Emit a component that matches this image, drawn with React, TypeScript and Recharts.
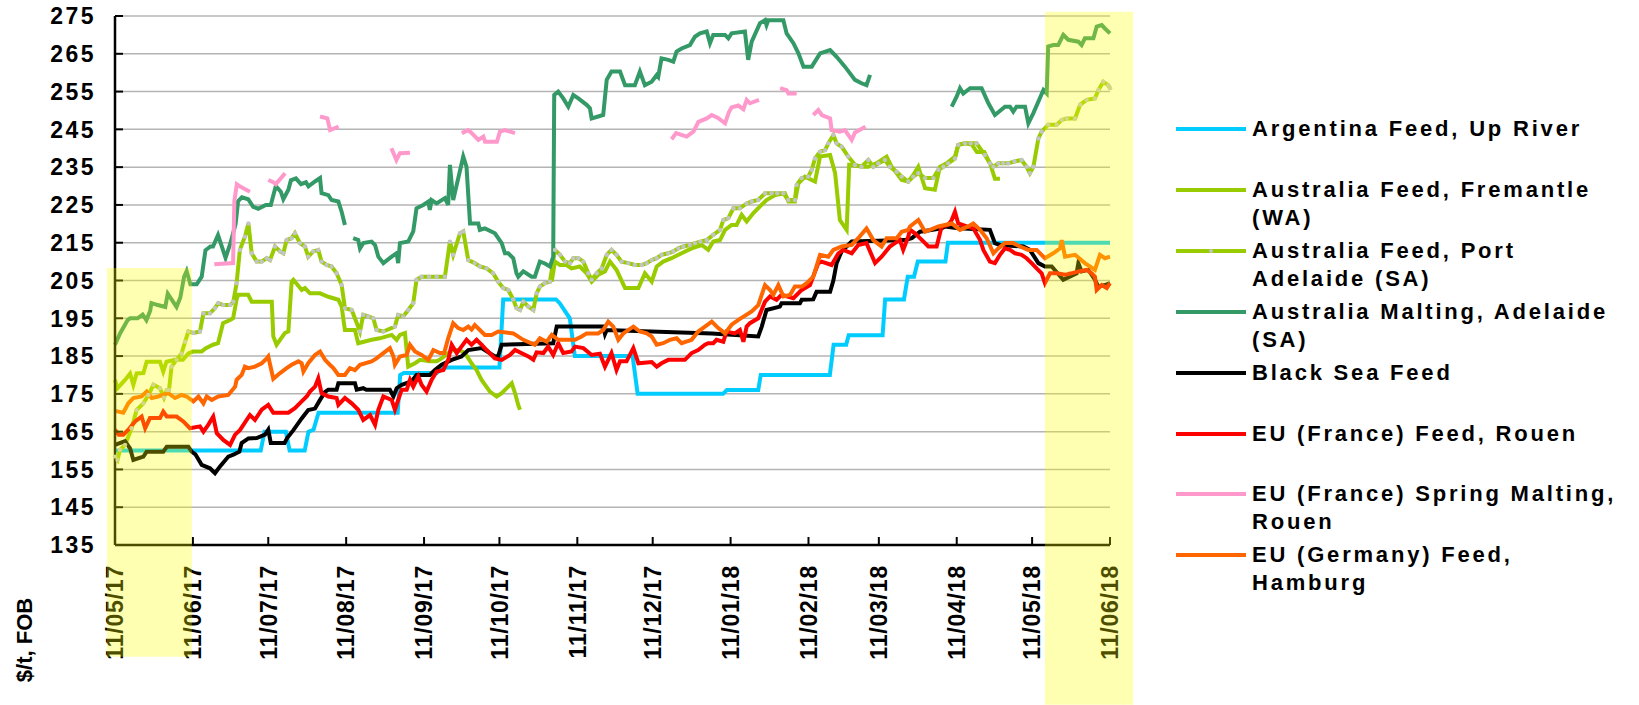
import React from 'react';
import { LineChart, Line, XAxis, YAxis, CartesianGrid, ReferenceArea } from 'recharts';

// x values are days counted from 11/05/17, y values are $/t FOB
type Pt = [number, number | null];

const tickDays = [0, 31, 61, 92, 123, 153, 184, 214, 245, 276, 304, 335, 365, 396];
const tickLabels = [
  '11/05/17', '11/06/17', '11/07/17', '11/08/17', '11/09/17', '11/10/17', '11/11/17',
  '11/12/17', '11/01/18', '11/02/18', '11/03/18', '11/04/18', '11/05/18', '11/06/18',
];
const valueTicks = [135, 145, 155, 165, 175, 185, 195, 205, 215, 225, 235, 245, 255, 265, 275];

const argentinaFeed: Pt[] = [
  [0, 160], [58, 160], [59.5, 165], [68, 165], [69.5, 160], [75.5, 160], [77, 165], [79, 165.5],
  [81, 170], [112.5, 170], [113.5, 180], [115, 180.5], [128, 180.5], [131, 182], [153, 182],
  [154.5, 200], [175.5, 200], [177, 199], [179.5, 196.5], [181, 195], [183, 185], [206, 185],
  [208, 175], [242, 175], [243.5, 176], [256, 176], [257, 180], [284.5, 180], [286, 188],
  [291, 188], [292, 190.5], [305.5, 190.5], [306.5, 200], [314, 200], [315.5, 206], [318, 206],
  [319.5, 210], [330.5, 210], [331.5, 215], [396, 215],
];

const fremantleFeed: Pt[] = [
  [0, 178.7], [1, 176.5], [4, 178.7], [6, 180.4], [7.3, 177.4], [8.6, 180.4], [11.3, 180.5],
  [12.6, 183.5], [17.9, 183.5], [19.2, 180.9], [20.5, 183.5], [23.9, 184], [27, 184], [29.2, 185.7],
  [31, 186.2], [34.5, 186.2], [36, 187], [39, 188], [41, 188.4], [43, 193.7], [46, 194.6], [47, 195],
  [48.4, 200], [49, 201.2], [53, 201.2], [54.4, 199.4], [62.4, 199.4], [63, 190.2], [64.3, 188],
  [67.6, 191.1], [69, 191.5], [70.3, 204.7], [71, 205.2], [74.3, 202.5], [75.6, 203], [77.6, 201.6],
  [81.6, 201.6], [84.9, 200.7], [88.9, 199.9], [90.2, 198.1], [91.5, 191.9], [95.5, 191.9],
  [96.8, 188.4], [102.1, 189.3], [105.4, 189.7], [110.1, 190.6], [112.1, 189.3], [113.4, 190.6],
  [115.4, 191.1], [116.7, 182.2], [119.4, 183.1], [121.4, 184], [125.3, 183.6], [128, 183.6],
  [130, 184.4], [132.6, 185.8], [134.6, 186.6], [137, 186.6], [139.3, 185.8], [141.9, 183.1],
  [143.9, 181.3], [145.9, 178.7], [149.2, 175.6], [151.9, 174.3], [153.9, 175.2], [155.9, 176.5],
  [157.9, 177.8], [159.2, 175.2], [160.5, 172], [161.2, 170.8], [165, null],
  [173.8, 204.7], [175.1, 210], [177.1, 209.1], [179.7, 209.1], [181.7, 208.2], [185, 208.7],
  [187.7, 206.9], [189.7, 204.7], [192.3, 206.5], [195, 207.4], [197, 210], [199.6, 207.8],
  [203, 203], [208.3, 203], [210.9, 206.9], [213.6, 204.7], [215.6, 208.7], [218.2, 210],
  [221.5, 210.9], [225.5, 212.2], [229.5, 213.5], [233.5, 214.4], [236.1, 213.1], [238.1, 215.3],
  [240.8, 215.7], [242.8, 218.4], [245.4, 219.7], [247.4, 219.7], [249.4, 222.4], [251.4, 220.6],
  [254, 222.8], [256.7, 224.6], [259.3, 226.3], [262.7, 227.6], [266.6, 228.1], [268, 225.9],
  [270.6, 225.9], [272, 230.7], [274.6, 232.5], [277.3, 231.6], [278.6, 231.2], [280.6, 237.8],
  [284.6, 238.2], [286.6, 233.4], [288.5, 221], [291.2, 218.4], [292.2, 235.6], [297.8, 235.1],
  [299.8, 235.1], [303, 236], [307.1, 237.8], [309.1, 235.1], [311.1, 233.4], [313.1, 231.6],
  [315.7, 231.2], [317.7, 232.9], [319.7, 235.1], [322.4, 229.4], [326.3, 229], [328.3, 235.1],
  [331, 236], [334.3, 237.8], [335.6, 240.9], [338.3, 241.3], [341, 241], [343, 239], [346, 239],
  [348.5, 235.5], [350.2, 231.9], [352.2, 231.9],
];

const portAdelaideFeed: Pt[] = [
  [0, 158.4], [1, 157.5], [2, 160.2], [4, 161.5], [6.6, 165.9], [8.6, 170.7], [11.3, 172.5],
  [13.3, 174.7], [15.3, 177.4], [17.9, 176.5], [19.5, 174], [20.6, 176], [21.5, 176], [22.5, 182.2],
  [24.5, 184], [26.5, 185.7], [27.9, 188.8], [29.2, 191.5], [31.2, 191.1], [33.8, 191.5],
  [35.2, 196.3], [37.8, 196.3], [39.8, 197.7], [41.1, 199], [43.1, 198.5], [45.8, 198.5],
  [47.1, 199.4], [48.4, 204.3], [49.7, 213.1], [51.7, 216.6], [53.1, 220.1], [54.4, 212.2],
  [56.4, 210], [58.4, 210], [60.4, 210.9], [61.7, 210.4], [63.7, 214], [65.7, 212.7], [67, 212.2],
  [68.3, 215.7], [70.3, 216.2], [71.6, 217.5], [73.6, 214.9], [75.6, 214], [76.9, 211.3],
  [78.9, 212.7], [80.9, 213.1], [82.2, 210], [84.2, 209.1], [86.2, 208.7], [88.2, 206.9],
  [90.2, 203.8], [91.5, 197.7], [94.2, 197.2], [97.5, 191.5], [98.8, 195.9], [100.8, 195.5],
  [102.8, 195], [104.1, 191.9], [106.8, 191.5], [111.4, 192.8], [112.7, 195.9], [114.7, 195.5],
  [116.7, 197.2], [118.7, 199], [120, 205.2], [122, 206], [125, 206], [128, 206], [131.3, 206],
  [133.3, 215.3], [134.6, 211.8], [137.3, 217.5], [138.6, 218], [140.6, 210.4], [143.2, 209.6],
  [145.2, 208.7], [147.9, 208.2], [150.5, 206.9], [152.5, 204.7], [154.5, 203], [156.5, 202.5],
  [158.5, 200], [159.8, 197.7], [161.2, 197.2], [162.5, 199.4], [164.5, 198.1], [166.5, 197.2],
  [167.8, 201.6], [169.1, 203.4], [171.1, 204.3], [173.1, 204.7], [175.1, 213.1], [177.1, 211.8],
  [179.1, 210], [181.1, 209.6], [182.4, 210.9], [184.4, 210.9], [186.4, 210], [188.4, 206.9],
  [189.7, 205.2], [191.7, 206.9], [193.7, 208.2], [195.7, 211.8], [197.6, 213.1], [199.6, 211.8],
  [201.6, 210], [204.3, 209.6], [206.9, 209.1], [209.6, 209.1], [211.6, 209.6], [213.6, 210.4],
  [215.6, 210.9], [217.5, 211.8], [220.2, 212.2], [222.2, 212.7], [224.2, 213.5], [226.2, 214],
  [228.8, 214.4], [230.8, 214.9], [233, 215.3], [235.5, 215.7], [238.1, 217.1], [240.8, 218.4],
  [242.1, 221], [244.1, 221.5], [246.1, 224.1], [248.7, 224.1], [251.4, 225.4], [253.4, 225.9],
  [256, 226.3], [258.7, 228.1], [261.3, 228.1], [263.6, 228.1], [266, 228.1], [268, 226.3],
  [270.6, 226.3], [271.3, 230.3], [273.3, 232.1], [275.9, 232.5], [277.3, 234.3], [278.6, 237.3],
  [280.6, 239.1], [282.6, 239.5], [283.9, 241.3], [285.9, 243.5], [287.2, 241.3], [289.2, 240.4],
  [291.8, 237.8], [294.5, 235.6], [297.1, 235.1], [299.8, 236.9], [301.8, 235.1], [303.8, 236],
  [306.4, 236.9], [308.4, 235.1], [311.1, 233.8], [313.1, 232.5], [315.7, 231.2], [317.7, 232.5],
  [319.7, 233.4], [322.4, 232.1], [325.7, 232.1], [327.7, 234.3], [329.7, 235.1], [331.6, 236],
  [334.3, 237.3], [335.6, 240.9], [338.3, 241.3], [340.6, 241.3], [342.9, 241.3], [346.2, 238.2],
  [348.2, 236], [349.6, 235.1], [351.5, 236], [353.5, 236], [355.5, 236], [358, 236.5],
  [360.8, 236.9], [362.8, 235.1], [364.1, 233.4], [365.5, 235.1], [367.5, 242.6], [368.8, 244.4],
  [371.4, 246.2], [374.8, 246.2], [376.8, 247.5], [378.8, 247.9], [382.1, 247.9], [384.1, 251.5],
  [386.7, 252.8], [390, 253.2], [391.4, 255.4], [393.3, 257.6], [395.3, 256.7], [396, 255.9],
];

const adelaideMalting: Pt[] = [
  [0, 188], [2, 191], [5, 194.5], [6, 195], [9, 195], [11, 196], [12.5, 194.5], [14, 197],
  [14.5, 199], [17, 198.5], [20, 198], [21, 201.5], [22.5, 200], [24.5, 198], [26, 200.5],
  [27.5, 206], [28.5, 207.5], [30, 204], [32.5, 204], [34.5, 206], [36, 213], [38, 214], [39, 214],
  [41, 217], [42.5, 214], [44, 211], [46, 215], [48, 220], [49, 226], [50.5, 227], [53, 226.5],
  [55, 224.5], [57, 224], [60, 225], [62, 225], [64, 230], [66, 228.5], [67, 226.5], [69, 229],
  [70, 231.5], [72, 232], [74, 230.5], [76, 231], [77, 229.9], [79.6, 231.2], [81.6, 232.1],
  [82.2, 228.1], [84.9, 227.6], [86.2, 226.3], [88.9, 225.9], [90.2, 223.2], [91.5, 219.7],
  [93, null], [94.8, 216.2], [96.8, 215.7], [97.5, 213.5], [98.8, 214.9], [102.1, 215.3],
  [103.5, 214.4], [104.8, 211.3], [106.8, 209.6], [110.1, 211.3], [112.1, 212.2], [112.7, 209.6],
  [113.4, 214.9], [116.7, 215.3], [118.7, 218], [120, 224.1], [122.7, 225], [124.7, 225.9],
  [125.3, 223.7], [126, 226.3], [128, 225.4], [131.3, 226.8], [132.6, 225], [133.3, 235.6],
  [134.6, 226.3], [138.6, 237.8], [139.9, 235.1], [141.3, 220.1], [144.6, 220.1], [145.2, 218.4],
  [147.2, 218.8], [151.2, 217.5], [153.9, 214.9], [155.2, 212.2], [156.5, 212.2], [158.5, 210.9],
  [159.8, 206.9], [160.5, 206], [162.5, 207.4], [165.8, 206], [167.1, 206], [169.1, 210],
  [171.1, 209.5], [173.1, 208.7], [174.4, 211.3], [174.8, 254.1], [176.4, 255], [178.4, 253.2],
  [180.4, 251], [182.4, 254.1], [184.4, 253.2], [187.7, 251.5], [189, 250.6], [189.7, 247.9],
  [192.3, 248.4], [194.3, 248.8], [195.7, 258.1], [197.6, 260.3], [201, 260.3], [203, 256.7],
  [206.9, 256.7], [208.9, 260.3], [210.9, 256.7], [213.6, 257.6], [215.6, 259.4], [216.2, 258.9],
  [217.5, 263.8], [220.2, 263.4], [222.2, 262.9], [223.5, 265.6], [225.5, 266.4], [228.8, 267.3],
  [230.8, 269.5], [232.8, 270.4], [235.5, 270.9], [236.8, 267.8], [238.1, 270], [242.8, 270],
  [244.1, 269.1], [245.4, 270.4], [250.7, 270.9], [252, 263.4], [253.4, 268.2], [256.7, 273.1],
  [258.7, 273.9], [259.3, 272.6], [260, 273.9], [266, 273.9], [267.3, 270.4], [270, 267.8],
  [272, 265.1], [274, 261.6], [277.3, 261.6], [280.6, 265.1], [284.6, 266], [287.2, 264.2],
  [290.5, 261.6], [294.5, 258.1], [297.1, 257.2], [299.1, 256.7], [300.5, 259.4], [316, null],
  [333, 251], [335, 253.7], [336.3, 255.9], [337.6, 254.5], [340.3, 255.9], [344.9, 255.9],
  [347.6, 251.9], [350.2, 248.8], [354.2, 251], [356.2, 251], [357.5, 249.7], [358.8, 251],
  [362.2, 251], [363.5, 246.6], [365.5, 249.3], [369.5, 255.4], [370.8, 254.5], [371.4, 266.9],
  [373.4, 267.3], [375.4, 267.3], [377.4, 270], [379.4, 268.7], [383.4, 268.2], [384.7, 267.3],
  [386, 269.1], [389.4, 269.1], [390.7, 272.2], [392.7, 272.6], [394, 271.7], [396, 270.4],
];

const blackSeaFeed: Pt[] = [
  [0, 161.5], [4, 162.5], [6, 160.6], [7.3, 157.5], [11.3, 158.4], [12.6, 159.7], [19.2, 159.7],
  [20.6, 161], [29.2, 161], [30.5, 159.7], [32, 159], [34.5, 156.2], [37.8, 155.3], [39.8, 154],
  [41.8, 155.8], [45.1, 158.4], [47.1, 158.9], [49.5, 159.7], [50.4, 162], [53.1, 163.2],
  [56.4, 163.3], [59.7, 164.2], [61, 165.5], [62, 162], [67.5, 162], [68.5, 163.3], [71, 165.4],
  [74.3, 168.5], [76.9, 170.7], [79.6, 171.1], [81.6, 173.4], [83.6, 175.5], [84.9, 176.1],
  [88.2, 176.1], [88.9, 177.8], [95.5, 177.8], [96.2, 176.1], [98.8, 176.5], [100, 176.1],
  [109.4, 176.1], [110.8, 174.3], [112.1, 176.5], [114.1, 177.4], [118, 178.3], [120, 180],
  [125.3, 180], [127.3, 181.3], [130, 182.7], [134, 184], [137.9, 184.9], [140.6, 186.6],
  [145.9, 187.1], [151.2, 184.9], [152.5, 185], [153.9, 188], [174.4, 188.4], [175.8, 192.8],
  [194.3, 192.8], [195, 190.8], [195.7, 191.9], [237.5, 191], [256, 190.2], [257.4, 192.8],
  [259.3, 197.2], [264.6, 198.1], [265.3, 199], [272.6, 199], [273.3, 199.9], [277.9, 200],
  [279.2, 202], [284.6, 202], [285.9, 205], [287.2, 209.6], [288.6, 211.8], [289.2, 212.7],
  [293.2, 215.3], [314.4, 215.7], [317.1, 216.2], [320.4, 217.9], [329, 218.8], [330.3, 219.3],
  [335.6, 218.8], [348.2, 218.4], [350.2, 214.9], [352.2, 214.4], [361.5, 214], [364.1, 213.1],
  [367.5, 209.6], [370.1, 208.7], [372.8, 208.7], [377.4, 205.2], [382.7, 206.9], [383.4, 209.6],
  [384.7, 207.4], [387.4, 207.8], [390, 205.2], [391.4, 203.4], [394, 203.8], [396, 204.3],
];

const rouenFeed: Pt[] = [
  [0, 165.5], [1.5, 164.2], [3.3, 164.2], [5.3, 165.5], [8, 167.7], [10.6, 169], [12, 165.9],
  [13.9, 168.6], [17.9, 168.6], [19.2, 170.3], [20.6, 169], [24.5, 169], [27.2, 167.7],
  [29.8, 165.9], [33.8, 166.4], [35.2, 165], [37.1, 166.8], [39.1, 169], [40.5, 164.6],
  [43.1, 162.8], [45.8, 161.5], [47.8, 164.2], [49.7, 165.4], [53.7, 169.4], [55.7, 168.1],
  [58.4, 170.8], [61, 172.1], [63, 170], [69, 170], [71.6, 171.2], [74.3, 173], [76.3, 174.3],
  [77.6, 175.6], [79.6, 176.9], [80.9, 179.1], [82.2, 175.2], [84.9, 174.3], [88.2, 173.9],
  [88.9, 172.1], [91.5, 173.9], [94.2, 172.5], [96.8, 170.8], [98.8, 168.1], [101.5, 169.4],
  [103.5, 166.8], [104.8, 170.8], [106.8, 174.3], [110.1, 173.4], [111.4, 170.8], [114.1, 176.1],
  [116.1, 176.1], [117.4, 178.7], [118.7, 176.9], [120.7, 179.6], [122, 177.4], [124, 175.6],
  [126, 178.7], [128, 180.9], [130.7, 181.3], [132.6, 184], [134, 188], [136, 185.8],
  [137.9, 187.5], [139.9, 189.3], [141.9, 188], [143.9, 189.3], [145.9, 188], [147.9, 186.6],
  [151.2, 184.4], [153.9, 184], [157.2, 185.3], [159.2, 186.6], [164.5, 184.9], [166.5, 184],
  [167.8, 186], [170.5, 185.8], [172.4, 187.5], [174.4, 185.3], [176.4, 188.4], [178.4, 185.8],
  [181.7, 186.2], [183.1, 187.5], [186.4, 187.1], [189.7, 185.3], [193, 185.6], [195, 182.2],
  [197.6, 185.8], [199.6, 181.3], [201, 183.6], [203.6, 183.6], [206.3, 187.1], [208.3, 183.1],
  [213.6, 183.4], [215.6, 182.2], [217.5, 183.1], [220.2, 184], [226.8, 184], [229.5, 185.8],
  [232.1, 186.6], [234.8, 188], [236.1, 188.4], [238.1, 188.4], [239.4, 189.3], [242.1, 188.8],
  [243.4, 191.5], [246.7, 191], [248.7, 191.9], [250.1, 188.8], [251.4, 192.8], [252.7, 193.7],
  [256, 195], [258.7, 199.4], [260.7, 200.8], [263.3, 199.9], [265.3, 201.2], [270, 200.3],
  [273.3, 202.5], [276.6, 203.8], [279.9, 209.6], [281.2, 210], [285.2, 209.1], [287.9, 212.2],
  [289.9, 213.1], [293.2, 212.2], [295.8, 214.4], [299.1, 214.9], [302.5, 209.6], [305.1, 211.3],
  [308.4, 214], [310.4, 214.9], [312.4, 215.7], [313.7, 213.1], [315.7, 216.6], [316.4, 218.4],
  [318.4, 217.5], [322.4, 214.9], [323.7, 214], [327, 214], [329, 219.3], [331.6, 219.7],
  [333, 221], [334.3, 223.2], [335.6, 220.1], [339, 219.3], [341.6, 218.8], [344.3, 215.7],
  [345.6, 213.1], [348.2, 210], [350.2, 209.6], [352.2, 211.8], [354.2, 213.5], [356.2, 213.1],
  [358.2, 212.2], [360.8, 211.8], [362.8, 210.9], [364.8, 209.6], [366.8, 208.2], [368.8, 206.9],
  [370.1, 204.3], [372.1, 206.9], [374.8, 206.9], [378.1, 206.5], [380.7, 206.9], [383.4, 207.4],
  [386.7, 207.8], [388.7, 206.9], [390, 206], [390.7, 202.5], [392.7, 203.8], [394.7, 203],
  [396, 204.3],
];

const rouenSpringMalting: Pt[] = [
  [39.5, 209.3], [47, 209.6], [47.5, 226], [48.5, 230.5], [50, 229.8], [53.7, 228.5], [57, null],
  [61, 231.6], [63, 231], [64, 230.5], [67.7, 233.4], [75, null],
  [81.6, 248.4], [84.5, 247.9], [85.6, 244.8], [89, 245.7], [100, null],
  [110, 240], [112, 236.9], [113.4, 238.7], [117.4, 238.8], [125, null],
  [138, 244], [140.6, 244.8], [142, 244], [144.6, 242.2], [146.6, 243.1], [147.3, 241.7],
  [152, 241.7], [153.2, 244.4], [155.2, 244.8], [159.2, 244], [180, null],
  [221.5, 242.4], [223.3, 244], [227.5, 243.1], [230.2, 244.4], [232.2, 247], [235.5, 247.9],
  [237.5, 248.8], [240, 248], [242.8, 246.6], [244.3, 249.5], [245.4, 250.8], [248.1, 251.3],
  [250.1, 250.3], [251.4, 252.8], [252.7, 251.9], [256.3, 252.8], [260, null],
  [264.7, 255.9], [267.3, 255.4], [268, 254.5], [271.3, 254.5], [275, null],
  [277.9, 248.8], [279.9, 250.1], [281.3, 248.8], [284.6, 247.9], [285.2, 244.8], [288.5, 244.4],
  [290.5, 244.8], [293.2, 242.2], [294.5, 244.2], [298.7, 245.7],
];

const hamburgFeed: Pt[] = [
  [0, 170.5], [3.3, 170], [5.3, 172.5], [7.3, 173.9], [10.6, 174.3], [12.6, 175.6], [14.6, 173.9],
  [17.2, 174.3], [21.2, 175.2], [23.9, 173.9], [26.5, 174.7], [28.5, 174.3], [31.2, 173],
  [33.2, 174.3], [35.2, 172.5], [36.5, 174.3], [38.5, 173.4], [41.1, 174.3], [45.1, 174.7],
  [47.8, 176.9], [48.4, 178.7], [50.4, 180], [51.7, 182.2], [53.1, 181.8], [55.7, 182.2],
  [58.4, 183.1], [60.4, 184.4], [61, 184.9], [63, 179], [65.7, 180.5], [68.3, 181.8],
  [70.3, 182.7], [73, 183.6], [74.3, 183.1], [75, 180.9], [76.9, 183.1], [79.6, 185.3],
  [81.6, 186.2], [83.6, 184], [85.5, 182.7], [86.9, 181.8], [88.9, 180], [91.5, 180],
  [93.5, 181.8], [95.5, 181.3], [97.5, 182.7], [102.1, 183.6], [104.1, 184.4], [106.8, 185.8],
  [109.4, 187.1], [110.8, 184.9], [111.4, 182.7], [113.4, 184.9], [116.1, 185.3], [117.4, 188],
  [119.4, 186.2], [122, 185.3], [124.7, 184], [126.7, 186.6], [129.3, 185.8], [131, 185.8],
  [132.6, 189.7], [134.6, 193.7], [136.6, 192.4], [138.6, 191.9], [140.6, 192.8], [141.9, 192],
  [143.2, 193.2], [145.2, 191.9], [147.2, 190.6], [149.9, 190.6], [152.5, 191.5], [158.5, 191],
  [162.5, 189.3], [167.1, 188], [169.1, 189.7], [171.8, 188.8], [173.8, 190.6], [176.4, 189.3],
  [183.1, 189.3], [185.7, 190.2], [187.7, 191], [192.3, 191], [194.3, 191.9], [196.3, 194.1],
  [198.3, 192.8], [200.3, 189.3], [202.3, 191], [206.3, 192.8], [208.9, 191.5], [211.6, 191],
  [213.6, 190.2], [215.6, 188], [218.2, 188.4], [220.9, 189.3], [223.5, 189.7], [225.5, 188.4],
  [229.5, 189.3], [232.1, 191.5], [234.8, 192.8], [237.5, 194.1], [240.1, 192.4], [242.8, 191],
  [245.4, 193.3], [248.1, 194.6], [253.4, 196.8], [256, 198.5], [258.7, 203.8], [260.7, 202.5],
  [262, 201.2], [264, 203.8], [266, 200.8], [268.7, 201.2], [270.6, 203.4], [273.3, 203.4],
  [275.3, 204.3], [277.9, 206], [280.6, 211.8], [283.9, 211.3], [285.9, 213.1], [289.2, 214],
  [293.2, 214.4], [295.8, 216.2], [299.1, 218.8], [301.8, 215.7], [305.1, 214], [307.1, 216.2],
  [311.1, 216.2], [313.1, 217.9], [315.7, 218.4], [316.4, 219.3], [319.7, 221], [322.4, 217.9],
  [327.7, 219.3], [333, 220.1], [336.3, 218.4], [339.6, 219.3], [341.6, 220.1], [344.3, 218.4],
  [346.9, 216.2], [349.6, 212.2], [351.5, 213.5], [354.2, 214.9], [357.5, 214.9], [360.2, 214],
  [363.5, 213.1], [366.8, 213.1], [370.1, 210.9], [373.4, 212.2], [376.1, 213.5], [376.8, 215.7],
  [378.1, 211.3], [382.1, 211.8], [386, 209.6], [388, 208.7], [390, 207.8], [392, 211.8],
  [394, 210.9], [396, 211.3],
];

const seriesList = [
  { key: 'arg', data: argentinaFeed, color: '#00CCFF', label: ['Argentina Feed, Up River'] },
  { key: 'frem', data: fremantleFeed, color: '#99CC00', label: ['Australia Feed, Fremantle', '(WA)'] },
  { key: 'port', data: portAdelaideFeed, color: '#99CC00', dotted: true, label: ['Australia Feed, Port', 'Adelaide (SA)'] },
  { key: 'malt', data: adelaideMalting, color: '#339966', label: ['Australia Malting, Adelaide', '(SA)'] },
  { key: 'bsea', data: blackSeaFeed, color: '#000000', label: ['Black Sea Feed'] },
  { key: 'rouen', data: rouenFeed, color: '#FF0000', label: ['EU (France) Feed, Rouen'] },
  { key: 'spring', data: rouenSpringMalting, color: '#FF99CC', label: ['EU (France) Spring Malting,', 'Rouen'] },
  { key: 'hamb', data: hamburgFeed, color: '#FF6600', label: ['EU (Germany) Feed,', 'Hamburg'] },
];

// highlighted periods (days, $/t)
const highlightStart = { x1: -3.2, x2: 30.6, y1: 105.4, y2: 208.3 };
const highlightEnd = { x1: 370.1, x2: 405.2, y1: 92.7, y2: 276.1 };

const FONT = '"Liberation Sans", Arial, sans-serif';

const toPoints = (arr: Pt[]) => arr.map(([d, v]) => ({ d, v }));

const DateTick = (props: any) => {
  const { x, y, payload } = props;
  const label = tickLabels[tickDays.indexOf(payload.value)];
  return (
    <text
      transform={`translate(${x},${y}) rotate(-90)`}
      textAnchor="end"
      dy="0.36em"
      fontSize={23}
      fontWeight="bold"
      letterSpacing={0.8}
      fontFamily={FONT}
      fill="#000"
    >
      {label}
    </text>
  );
};

const ValueTick = (props: any) => {
  const { x, y, payload } = props;
  return (
    <text x={x} y={y} dy="0.36em" textAnchor="end" fontSize={23} fontWeight="bold" letterSpacing={2.5} fontFamily={FONT} fill="#000">
      {payload.value}
    </text>
  );
};

const App = () => {
  return (
    <div style={{ position: 'absolute', left: 0, top: 0, width: 1639, height: 705, background: '#fff', fontFamily: FONT }}>
      <LineChart width={1639} height={705} margin={{ top: 16, right: 529, bottom: 40, left: 0 }}>
        <CartesianGrid horizontal vertical={false} stroke="#b4b4b4" strokeWidth={1.5} />
        <XAxis
          type="number"
          dataKey="d"
          domain={[0, 396]}
          ticks={tickDays}
          interval={0}
          height={120}
          tick={<DateTick />}
          tickSize={-8}
          tickMargin={28}
          axisLine={{ stroke: '#000', strokeWidth: 2.5 }}
          tickLine={{ stroke: '#000', strokeWidth: 2 }}
        />
        <YAxis
          type="number"
          domain={[135, 275]}
          ticks={valueTicks}
          interval={0}
          width={115}
          tick={<ValueTick />}
          tickSize={-8}
          tickMargin={27}
          axisLine={{ stroke: '#000', strokeWidth: 2.5 }}
          tickLine={{ stroke: '#000', strokeWidth: 2 }}
        />
        {seriesList.map((s) => (
          <Line
            key={s.key}
            data={toPoints(s.data)}
            dataKey="v"
            type="linear"
            stroke={s.color}
            strokeWidth={4}
            dot={s.dotted ? { r: 2.2, fill: '#c4c4c4', stroke: 'none' } : false}
            activeDot={false}
            connectNulls={false}
            isAnimationActive={false}
          />
        ))}
        <ReferenceArea {...highlightStart} fill="#FFFF00" fillOpacity={0.3} stroke="none" ifOverflow="visible" zIndex={2000} />
        <ReferenceArea {...highlightEnd} fill="#FFFF00" fillOpacity={0.3} stroke="none" ifOverflow="visible" zIndex={2000} />
      </LineChart>

      <div
        style={{
          position: 'absolute',
          left: 25,
          top: 640,
          transform: 'translate(-50%, -50%) rotate(-90deg)',
          whiteSpace: 'nowrap',
          fontSize: 22,
          fontWeight: 'bold',
          lineHeight: '24px',
        }}
      >
        $/t, FOB
      </div>

      {seriesList.map((s, i) => (
        <div key={s.key} style={{ position: 'absolute', left: 1176, top: 129 + i * 60.9 - 14, width: 460 }}>
          <div style={{ position: 'absolute', left: 0, top: 12, width: 70, height: 4, background: s.color }} />
          {s.dotted && (
            <div style={{ position: 'absolute', left: 33, top: 12, width: 4, height: 4, borderRadius: 2, background: '#c4c4c4' }} />
          )}
          <div
            style={{
              position: 'absolute',
              left: 76,
              top: 0,
              fontSize: 22,
              fontWeight: 'bold',
              letterSpacing: 2.8,
              lineHeight: '28px',
              whiteSpace: 'nowrap',
              color: '#000',
            }}
          >
            {s.label.map((ln) => (
              <div key={ln}>{ln}</div>
            ))}
          </div>
        </div>
      ))}
    </div>
  );
};

export default App;
